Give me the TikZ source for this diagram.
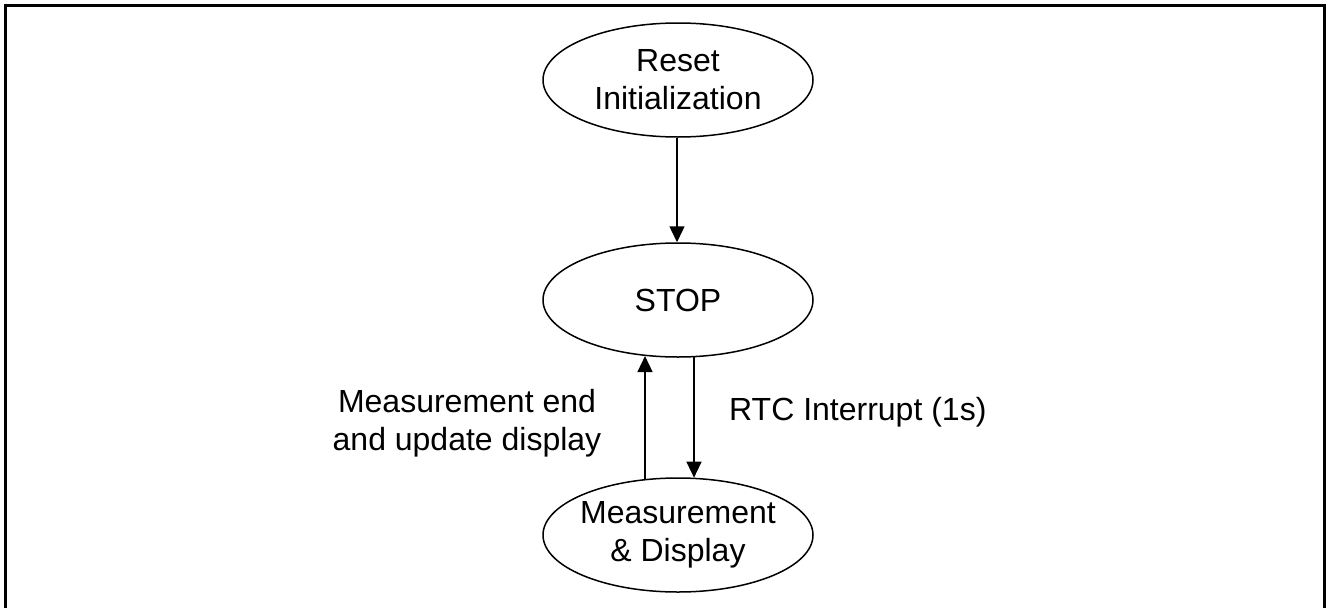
\documentclass[tikz,border=0pt]{standalone}
\usepackage{fontspec}
\setmainfont{Liberation Sans}
\usetikzlibrary{shapes.geometric,arrows.meta}
\begin{document}
\begin{tikzpicture}[x=1pt,y=-1pt,
  state/.style={ellipse,draw,line width=1.5pt,minimum width=270pt,minimum height=114pt,inner xsep=-20pt,inner ysep=0pt,align=center,font=\fontsize{32}{38}\selectfont},
  conn/.style={line width=1.5pt,-{Triangle[length=16pt,width=15pt]}},
  lbl/.style={align=center,inner sep=0pt,font=\fontsize{32}{38}\selectfont}]
\useasboundingbox (0,0) rectangle (1326,608);
\draw[line width=3pt] (5.5,620) -- (5.5,5.5) -- (1324.5,5.5) -- (1324.5,620);
\node[state] (reset) at (678,80) {Reset\\Initialization};
\node[state] (stop) at (678,300) {STOP};
\node[state] (meas) at (678,535) {Measurement\\\& Display};
\draw[conn] ([xshift=-1pt]reset.south) -- ([xshift=-1pt]stop.north);
\draw[conn] ([xshift=-33pt,yshift=-1.7pt]meas.north) -- ([xshift=-33pt,yshift=1.7pt]stop.south);
\draw[conn] ([xshift=16pt,yshift=0.4pt]stop.south) -- ([xshift=16pt,yshift=-0.4pt]meas.north);
\node[lbl,anchor=north] (lab1) at (467,389) {Measurement end\\and update display};
\node[lbl,anchor=base west] (lab2) at (729,420) {RTC Interrupt (1s)};
\end{tikzpicture}
\end{document}
